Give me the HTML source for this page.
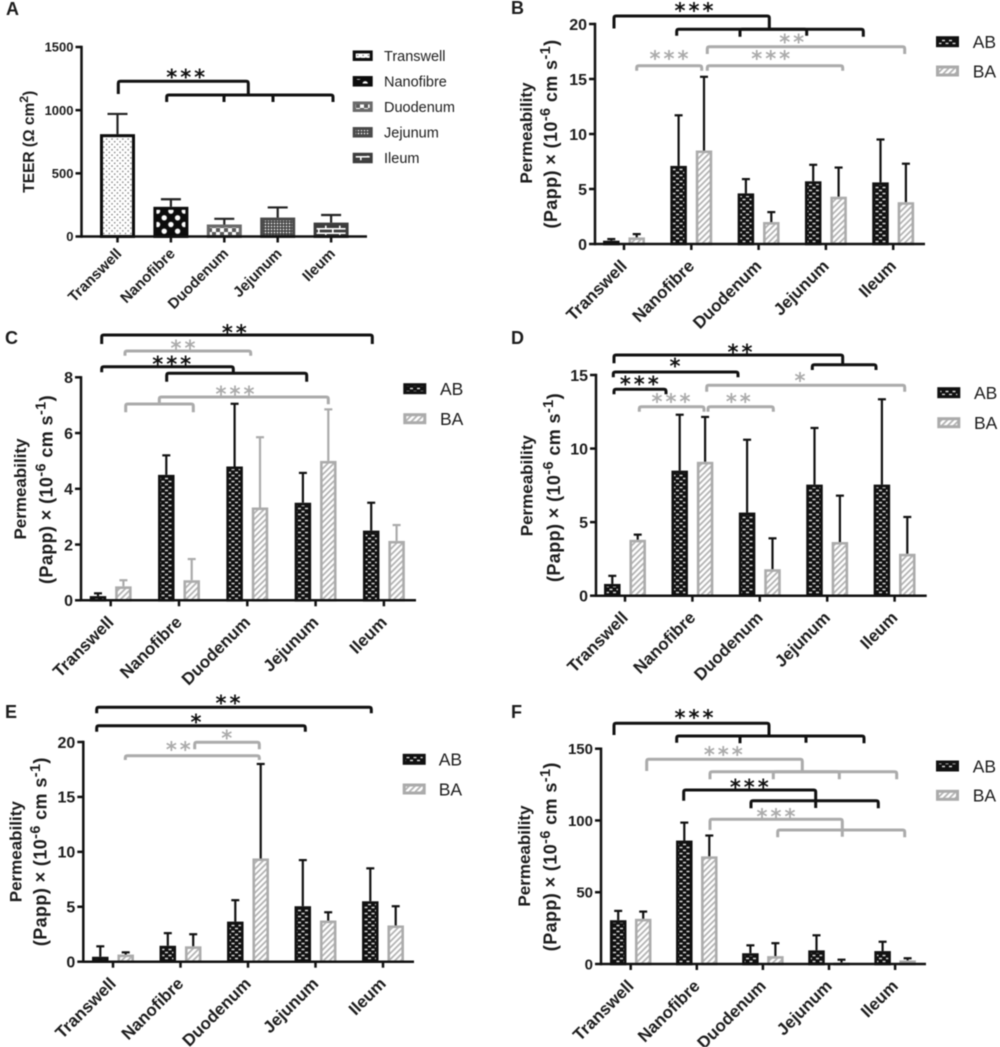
<!DOCTYPE html>
<html lang="en">
<head>
<meta charset="utf-8">
<title>TEER and permeability bar charts</title>
<style>
html,body{margin:0;padding:0;background:#fff;}
#figure{display:block;filter:blur(0.45px);}
text{font-family:"Liberation Sans",Arial,sans-serif;fill:#1c1c1c;}
</style>
</head>
<body>
<svg id="figure" xmlns="http://www.w3.org/2000/svg" width="1000" height="1047" viewBox="0 0 1000 1047">
<defs>
<pattern id="pat-ab" patternUnits="userSpaceOnUse" width="7" height="6"><rect width="7" height="6" fill="#111"/><rect x="0.5" y="0.8" width="3" height="1.4" fill="#e4e4e4"/><rect x="4" y="3.8" width="3" height="1.4" fill="#e4e4e4"/></pattern>
<pattern id="pat-ba" patternUnits="userSpaceOnUse" width="4.2" height="4.2" patternTransform="rotate(45)"><rect width="4.2" height="4.2" fill="#fff"/><rect width="1.8" height="4.2" fill="#b4b4b4"/></pattern>
<pattern id="pat-transwell" patternUnits="userSpaceOnUse" width="5.4" height="5.4"><rect width="5.4" height="5.4" fill="#fff"/><circle cx="1.3" cy="1.3" r="0.75" fill="#777"/><circle cx="4" cy="4" r="0.75" fill="#777"/></pattern>
<pattern id="pat-nanofibre" patternUnits="userSpaceOnUse" width="13.4" height="13.4"><rect width="13.4" height="13.4" fill="#0c0c0c"/><circle cx="3.4" cy="3.4" r="2.7" fill="#fff"/><circle cx="10.1" cy="10.1" r="2.7" fill="#fff"/></pattern>
<pattern id="pat-duodenum" patternUnits="userSpaceOnUse" width="8" height="8"><rect width="8" height="8" fill="#5a5a5a"/><rect width="4" height="4" fill="#fff"/><rect x="4" y="4" width="4" height="4" fill="#fff"/></pattern>
<pattern id="pat-jejunum" patternUnits="userSpaceOnUse" width="3" height="3"><rect width="3" height="3" fill="#444"/><circle cx="1.5" cy="1.5" r="0.85" fill="#f2f2f2"/></pattern>
<pattern id="pat-ileum" patternUnits="userSpaceOnUse" width="14" height="9"><rect width="14" height="9" fill="#3c3c3c"/><rect y="3" width="14" height="1.6" fill="#fff"/><rect y="7.4" width="14" height="1.6" fill="#fff"/><rect x="3" width="1.6" height="3" fill="#fff"/><rect x="10" y="4.5" width="1.6" height="3" fill="#fff"/></pattern>
</defs>
</svg>
<script>
const categories = ['Transwell', 'Nanofibre', 'Duodenum', 'Jejunum', 'Ileum'];

const teerValues = [810, 235, 95, 150, 110];
const teerErrors = [160, 60, 45, 80, 60];
const teerTicks = [0, 500, 1000, 1500];

const panelBAB = [0.3, 7.1, 4.6, 5.7, 5.6];
const panelBABErr = [0.15, 4.6, 1.3, 1.5, 3.9];
const panelBBA = [0.6, 8.5, 2, 4.3, 3.8];
const panelBBAErr = [0.3, 6.7, 0.9, 2.65, 3.5];
const panelBTicks = [0, 5, 10, 15, 20];

const panelCAB = [0.15, 4.5, 4.8, 3.5, 2.5];
const panelCABErr = [0.1, 0.7, 2.25, 1.07, 1.0];
const panelCBA = [0.5, 0.72, 3.33, 5, 2.13];
const panelCBAErr = [0.22, 0.76, 2.52, 1.85, 0.57];
const panelCTicks = [0, 2, 4, 6, 8];

const panelDAB = [0.8, 8.5, 5.65, 7.55, 7.55];
const panelDABErr = [0.55, 3.8, 4.95, 3.85, 5.8];
const panelDBA = [3.8, 9.1, 1.8, 3.65, 2.85];
const panelDBAErr = [0.35, 3.05, 2.1, 3.15, 2.5];
const panelDTicks = [0, 5, 10, 15];

const panelEAB = [0.45, 1.45, 3.65, 5.05, 5.5];
const panelEABErr = [0.95, 1.15, 1.95, 4.2, 3.0];
const panelEBA = [0.65, 1.4, 9.4, 3.75, 3.3];
const panelEBAErr = [0.2, 1.1, 8.6, 0.75, 1.75];
const panelETicks = [0, 5, 10, 15, 20];

const panelFAB = [30.5, 86, 7.5, 9.5, 9];
const panelFABErr = [6.5, 12.5, 5.5, 10.5, 6.5];
const panelFBA = [31.5, 75, 5.5, 1, 2.5];
const panelFBAErr = [5, 14.5, 9, 2, 1.5];
const panelFTicks = [0, 50, 100, 150];

const BLACK = '#111';
const GREY = '#ababab';
const root = document.getElementById('figure');
const NS = 'http://www.w3.org/2000/svg';

function mark(parent, tag, attrs, name) {
  const el = document.createElementNS(NS, tag);
  for (const k in attrs) el.setAttribute(k, attrs[k]);
  
  
  parent.appendChild(el);
  return el;
}

function label(parent, x, y, str, size, bold, anchor, name, rotate) {
  const attrs = {x: x, y: y, 'font-size': size, 'font-weight': bold ? 'bold' : 'normal', 'text-anchor': anchor};
  if (rotate) attrs.transform = 'rotate(' + rotate + ' ' + x + ' ' + y + ')';
  const t = mark(parent, 'text', attrs, name);
  t.textContent = str;
  return t;
}

function line(parent, x1, y1, x2, y2, color, w, name) {
  return mark(parent, 'line', {x1: x1, y1: y1, x2: x2, y2: y2, stroke: color, 'stroke-width': w}, name);
}

function bracket(parent, xL, xR, y, dropL, dropR, color, name) {
  const d = 'M' + xL + ' ' + dropL + 'V' + (y + 2) + 'Q' + xL + ' ' + y + ' ' + (xL + 2) + ' ' + y +
    'H' + (xR - 2) + 'Q' + xR + ' ' + y + ' ' + xR + ' ' + (y + 2) + 'V' + dropR;
  mark(parent, 'path', {d: d, fill: 'none', stroke: color, 'stroke-width': 3}, name);
}

function stars(parent, cx, cy, count, color, name) {
  const t = mark(parent, 'text', {x: cx + 1.5, y: cy + 10.5, 'font-size': 21, 'font-weight': 'bold', 'letter-spacing': 3, 'text-anchor': 'middle', style: 'font-family:"DejaVu Sans",sans-serif;fill:' + color}, name);
  t.textContent = '*'.repeat(count);
}

function yTitle(parent, x, cy, size, parts, name, spacing) {
  const t = mark(parent, 'text', {x: x, y: cy, 'font-size': size, 'font-weight': 'bold', 'text-anchor': 'middle', 'letter-spacing': spacing || 0, transform: 'rotate(-90 ' + x + ' ' + cy + ')'}, name);
  parts.forEach(function (p) {
    const s = document.createElementNS(NS, 'tspan');
    s.textContent = p[0];
    if (p[1]) {
      s.setAttribute('font-size', size * 0.8);
      s.setAttribute('dy', -size * 0.38);
    } else if (p[2]) {
      s.setAttribute('dy', size * 0.38);
    }
    t.appendChild(s);
  });
}

function drawPanel(cfg) {
  const g = mark(root, 'g', {}, 'panel-' + cfg.id);
  const xPos = function (i) { return cfg.first + i * cfg.step; };
  const yPos = function (v) { return cfg.y0 - (v / cfg.max) * (cfg.y0 - cfg.yTop); };

  label(g, cfg.letter[0], cfg.letter[1], cfg.id.toUpperCase(), 18, true, 'start', 'panel-letter-' + cfg.id);

  cfg.series.forEach(function (s) {
    s.values.forEach(function (v, i) {
      const cx = xPos(i) + s.offset;
      const eTop = yPos(v + s.errors[i]);
      line(g, cx, yPos(v), cx, eTop, s.errColor, cfg.errW, 'error-bar-' + s.key + '-' + categories[i].toLowerCase());
      line(g, cx - cfg.capW / 2, eTop, cx + cfg.capW / 2, eTop, s.errColor, cfg.errW, 'error-cap-' + s.key + '-' + categories[i].toLowerCase());
      const fill = s.fills ? s.fills[i] : s.fill;
      const stroke = s.strokes ? s.strokes[i] : s.stroke;
      const sw = cfg.barStroke;
      const top = yPos(v);
      mark(g, 'rect', {x: cx - cfg.barW / 2 + sw / 2, y: top + sw / 2, width: cfg.barW - sw, height: Math.max(0.4, cfg.y0 - top - sw / 2), fill: fill, stroke: stroke, 'stroke-width': sw}, 'bar-' + s.key + '-' + categories[i].toLowerCase());
    });
  });

  line(g, cfg.axisX, cfg.yTop - 1.2, cfg.axisX, cfg.y0 + 1.2, BLACK, 2.5, 'y-axis');
  line(g, cfg.axisX, cfg.y0, cfg.xEnd, cfg.y0, BLACK, 2.5, 'x-axis');

  cfg.ticks.forEach(function (t) {
    const y = yPos(t);
    line(g, cfg.axisX - 6, y, cfg.axisX, y, BLACK, 2.5, 'y-tick-' + t);
    label(g, cfg.axisX - 8, y + cfg.tickSize * 0.36, String(t), cfg.tickSize, true, 'end', 'y-tick-label-' + t);
  });

  categories.forEach(function (c, i) {
    const x = xPos(i);
    line(g, x, cfg.y0, x, cfg.y0 + 6, BLACK, 2.5, 'x-tick-' + c.toLowerCase());
    label(g, x + cfg.catDx, cfg.y0 + cfg.catDy, c, cfg.catSize, true, 'end', 'x-tick-label-' + c.toLowerCase(), -45);
  });

  cfg.titles.forEach(function (tt, i) {
    yTitle(g, tt[0], tt[1], i === 1 ? cfg.titleSize + 1 : cfg.titleSize, tt[2], 'y-axis-title-line-' + (i + 1), i === 1 ? 0.4 : 0);
  });

  cfg.legend.forEach(function (l) {
    mark(g, 'rect', {x: cfg.legendX + 1.5, y: l.y - cfg.swH / 2 + 1.5, width: cfg.swW - 3, height: cfg.swH - 3, fill: l.fill, stroke: l.stroke, 'stroke-width': 3}, 'legend-swatch-' + l.text.toLowerCase());
    label(g, cfg.legendTextX, l.y + cfg.legendSize * 0.36, l.text, cfg.legendSize, false, 'start', 'legend-label-' + l.text.toLowerCase());
  });

  cfg.brackets.forEach(function (b, i) {
    bracket(g, b[0], b[1], b[2], b[3], b[4], b[5], 'significance-bracket-' + (i + 1));
  });
  cfg.marks.forEach(function (m, i) {
    stars(g, m[0], m[1], m[2], m[3], 'significance-stars-' + (i + 1));
  });
}

const permTitle = [['(Papp) × (10'], ['-6', true], [' cm s', false, true], ['-1', true], [')', false, true]];
const abLegend = function (y1, y2) {
  return [
    {text: 'AB', y: y1, fill: 'url(#pat-ab)', stroke: BLACK},
    {text: 'BA', y: y2, fill: 'url(#pat-ba)', stroke: GREY}
  ];
};
const abSeries = function (ab, abErr, ba, baErr, off, baErrColor) {
  return [
    {key: 'ab', values: ab, errors: abErr, offset: -off, fill: 'url(#pat-ab)', stroke: BLACK, errColor: BLACK},
    {key: 'ba', values: ba, errors: baErr, offset: off, fill: 'url(#pat-ba)', stroke: GREY, errColor: baErrColor}
  ];
};
const common = {barW: 16.5, barStroke: 2.6, errW: 2.2, capW: 8, tickSize: 16, catSize: 17, titleSize: 17, swW: 23, swH: 11, legendSize: 17.5, catDx: 4, catDy: 23};

drawPanel(Object.assign({}, common, {
  id: 'a', letter: [6, 15], axisX: 81.5, xEnd: 367, first: 117.5, step: 53.4, y0: 236.5, yTop: 47, max: 1500,
  ticks: teerTicks, barW: 35, barStroke: 3, capW: 20, tickSize: 13, catSize: 15, titleSize: 15.5, catDx: 5, catDy: 18,
  series: [{key: 'teer', values: teerValues, errors: teerErrors, offset: 0,
    fills: ['url(#pat-transwell)', 'url(#pat-nanofibre)', 'url(#pat-duodenum)', 'url(#pat-jejunum)', 'url(#pat-ileum)'],
    strokes: ['#0c0c0c', '#0c0c0c', '#6a6a6a', '#4a4a4a', '#3c3c3c'], errColor: '#222'}],
  titles: [[34, 141.7, [['TEER (Ω cm'], ['2', true], [')', false, true]]]],
  legendX: 352.7, legendTextX: 384, swW: 20, swH: 10.5, legendSize: 14.5,
  legend: [
    {text: 'Transwell', y: 55.7, fill: 'url(#pat-transwell)', stroke: '#0c0c0c'},
    {text: 'Nanofibre', y: 81.3, fill: 'url(#pat-nanofibre)', stroke: '#0c0c0c'},
    {text: 'Duodenum', y: 106.7, fill: 'url(#pat-duodenum)', stroke: '#6a6a6a'},
    {text: 'Jejunum', y: 132.3, fill: 'url(#pat-jejunum)', stroke: '#4a4a4a'},
    {text: 'Ileum', y: 158, fill: 'url(#pat-ileum)', stroke: '#3c3c3c'}
  ],
  brackets: [
    [118.3, 248.3, 81.3, 94, 94, BLACK],
    [166.7, 273, 95, 102, 102, BLACK],
    [224, 333, 95, 102, 102, BLACK]
  ],
  marks: [[185.7, 74, 3, BLACK]]
}));

drawPanel(Object.assign({}, common, {
  id: 'b', letter: [511, 14], axisX: 595, xEnd: 925, first: 624, step: 67.3, y0: 244, yTop: 24, max: 20,
  ticks: panelBTicks,
  series: abSeries(panelBAB, panelBABErr, panelBBA, panelBBAErr, 12.7, BLACK),
  titles: [[532, 133, [['Permeability']]], [557, 134, permTitle]],
  legendX: 936, legendTextX: 972.7, legend: abLegend(41.7, 71),
  brackets: [
    [614, 769.3, 16, 28.5, 29, BLACK],
    [676.7, 806.7, 29.3, 35.7, 35.7, BLACK],
    [740, 863.3, 29.3, 36.7, 36.7, BLACK],
    [636.7, 701.7, 65.7, 70.7, 70.7, GREY],
    [707.3, 842.7, 65.7, 70.7, 70.7, GREY],
    [707.3, 904.7, 46.7, 54, 54, GREY]
  ],
  marks: [[694, 7.7, 3, BLACK], [669, 55.7, 3, GREY], [770.7, 55.7, 3, GREY], [791.7, 39, 2, GREY]]
}));

drawPanel(Object.assign({}, common, {
  id: 'c', letter: [5, 344], axisX: 81, xEnd: 416, first: 110.7, step: 68.3, y0: 600.3, yTop: 377.3, max: 8,
  ticks: panelCTicks,
  series: abSeries(panelCAB, panelCABErr, panelCBA, panelCBAErr, 12.7, GREY),
  titles: [[26, 489, [['Permeability']]], [52.5, 489.5, permTitle]],
  legendX: 403.3, legendTextX: 440, legend: abLegend(388.7, 418.7),
  brackets: [
    [101.7, 372.3, 335, 344, 344, BLACK],
    [125, 250.7, 351, 355.7, 355.7, GREY],
    [101.7, 233.3, 366.7, 372.3, 373, BLACK],
    [166.7, 306.7, 373.3, 381.7, 381.7, BLACK],
    [125.7, 193.3, 404, 412.3, 412.3, GREY],
    [159.3, 328.3, 397, 404, 404.3, GREY]
  ],
  marks: [[234.3, 329.3, 2, BLACK], [183, 345, 2, GREY], [171.7, 361, 3, BLACK], [235, 391, 3, GREY]]
}));

drawPanel(Object.assign({}, common, {
  id: 'd', letter: [511, 344], axisX: 596, xEnd: 926.7, first: 625, step: 67.4, y0: 595.7, yTop: 375, max: 15,
  ticks: panelDTicks,
  series: abSeries(panelDAB, panelDABErr, panelDBA, panelDBAErr, 12.7, BLACK),
  titles: [[532.5, 485.7, [['Permeability']]], [560, 487.5, permTitle]],
  legendX: 937.3, legendTextX: 974, legend: abLegend(392.7, 422.7),
  brackets: [
    [614, 842.7, 355, 363.3, 364.5, BLACK],
    [812.3, 876, 364.7, 370, 370, BLACK],
    [613.3, 738, 372, 377.3, 377.3, BLACK],
    [614, 666, 389.3, 394.3, 394.3, BLACK],
    [706.7, 904.7, 385.3, 391.7, 391.7, GREY],
    [639.3, 704, 406.7, 411.7, 411.7, GREY],
    [708, 773.3, 406.7, 411.7, 411.7, GREY]
  ],
  marks: [[740, 349, 2, BLACK], [675, 363, 1, BLACK], [639.3, 381, 3, BLACK], [800, 377.7, 1, GREY], [671, 398.3, 3, GREY], [738.3, 398.3, 2, GREY]]
}));

drawPanel(Object.assign({}, common, {
  id: 'e', letter: [5, 718], axisX: 83.3, xEnd: 414, first: 113, step: 67.5, y0: 961.7, yTop: 742, max: 20,
  ticks: panelETicks,
  series: abSeries(panelEAB, panelEABErr, panelEBA, panelEBAErr, 12.7, BLACK),
  titles: [[21.5, 851.7, [['Permeability']]], [46.7, 851.7, permTitle]],
  legendX: 402.7, legendTextX: 438.7, legend: abLegend(759.3, 789),
  brackets: [
    [96.7, 371.3, 707.3, 713.3, 713.3, BLACK],
    [96.7, 305.3, 725.7, 731.7, 731.7, BLACK],
    [194.7, 259.3, 742.3, 749.3, 749.3, GREY],
    [125.3, 259.3, 755.7, 760, 760, GREY]
  ],
  marks: [[228, 700, 2, BLACK], [196, 719, 1, BLACK], [226.7, 735, 1, GREY], [178.3, 746.7, 2, GREY]]
}));

drawPanel(Object.assign({}, common, {
  id: 'f', letter: [511, 718], axisX: 601, xEnd: 926, first: 630.7, step: 66.1, y0: 964, yTop: 748.7, max: 150,
  ticks: panelFTicks, tickSize: 15,
  series: abSeries(panelFAB, panelFABErr, panelFBA, panelFBAErr, 12.5, BLACK),
  titles: [[530, 856, [['Permeability']]], [556.7, 856.7, permTitle]],
  legendX: 936, legendTextX: 972.7, legend: abLegend(766, 795.3),
  brackets: [
    [614, 769, 723.3, 735, 736, BLACK],
    [676.7, 806, 736, 742.7, 742.7, BLACK],
    [740, 864, 736, 743.3, 743.3, BLACK],
    [646.7, 802.3, 759.3, 771, 771.7, GREY],
    [710, 839.3, 771.7, 779.3, 779.3, GREY],
    [773.3, 896.7, 771.7, 779.3, 779.3, GREY],
    [683.7, 815.7, 790, 800.7, 808, BLACK],
    [751, 878.3, 800.7, 808.3, 808.3, BLACK],
    [710, 842.3, 819.3, 830, 836.7, GREY],
    [777.7, 904.7, 830, 837.3, 837.3, GREY]
  ],
  marks: [[694, 714.3, 3, BLACK], [723.3, 751.7, 3, GREY], [749.3, 784, 3, BLACK], [776, 813.3, 3, GREY]]
}));
</script>
</body>
</html>
